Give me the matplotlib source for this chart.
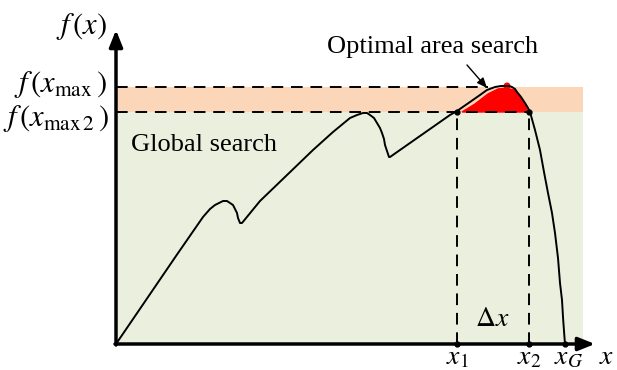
import matplotlib
matplotlib.use("Agg")
import matplotlib.pyplot as plt
from matplotlib.patches import Rectangle, Polygon, Circle

plt.rcParams['mathtext.fontset'] = 'stix'
plt.rcParams['font.family'] = ['Liberation Serif', 'DejaVu Serif']

# ---- data (units: relative to the axis origin) ----
curve_x = [0, 30, 60, 87, 94, 99, 103, 107, 111, 114, 117, 119, 121, 122, 124, 126,
           144, 170, 197, 217, 234, 241, 247, 251, 254, 258, 261, 264, 266, 268, 269, 271, 273, 274,
           304, 334, 341, 354, 364, 371, 379, 385, 389, 393, 396, 399, 401, 405, 409, 412, 414,
           419, 424, 428, 432, 436, 439, 442, 444, 446, 447, 448, 449]
curve_y = [0, 44, 88, 127, 135, 139, 141, 143, 143, 141, 139, 135, 131, 126, 121, 121,
           143, 168, 194, 212, 226, 229, 231, 231, 229, 226, 221, 216, 211, 205, 199, 193, 187, 187,
           208, 229, 233, 242, 249, 254, 257, 258, 258, 258, 257, 255, 252, 247, 241, 236, 232,
           214, 194, 172, 151, 131, 111, 86, 61, 44, 27, 13, 0]
red_x = [346, 359, 372, 382, 390, 398, 404, 409, 412]
red_y = [232, 240, 250, 255, 256, 254, 248, 239, 232]
red_peak = (391, 258)
f_max = 257
f_max2 = 232
x1, x2, xG = 341, 413, 449
band_right = 467

fig = plt.figure(figsize=(6.17, 3.70), dpi=100)
ax = fig.add_axes([0, 0, 1, 1])
ax.set_xlim(-116, 501)
ax.set_ylim(-26, 344)
ax.axis('off')

# bands
ax.add_patch(Rectangle((0, 0), band_right, f_max2, facecolor='#EBF0DE', edgecolor='none', zorder=0))
ax.add_patch(Rectangle((0, f_max2), band_right, f_max - f_max2, facecolor='#FBD6B8', edgecolor='none', zorder=0))

# red optimal region
ax.add_patch(Polygon(list(zip(red_x, red_y)), closed=True, facecolor='red', edgecolor='red', lw=1, zorder=2))
ax.add_patch(Circle(red_peak, 3.5, facecolor='red', edgecolor='none', zorder=2))

# dashed lines
dash = dict(color='black', lw=1.4, linestyle=(0, (6, 4)), zorder=3)
ax.plot([0, 372], [f_max, f_max], **dash)
ax.plot([0, x2], [f_max2, f_max2], **dash)
ax.plot([x1, x1], [0, f_max2], **dash)
ax.plot([x2, x2], [0, f_max2], **dash)

# curve
ax.plot(curve_x, curve_y, color='black', lw=1.4, zorder=4, solid_joinstyle='round')

# dots
ax.plot([x1, x2, x1, x2, xG], [f_max2, f_max2, 0, 0, 0], 'o', color='black', ms=3.5, zorder=5)

# axes arrows
ax.annotate('', xy=(0, 314), xytext=(0, -1),
            arrowprops=dict(arrowstyle='-|>,head_length=1.0,head_width=0.4', color='black', lw=2.5, shrinkA=0, shrinkB=0), zorder=6)
ax.annotate('', xy=(479, 0), xytext=(-1, 0),
            arrowprops=dict(arrowstyle='-|>,head_length=1.0,head_width=0.4', color='black', lw=2.5, shrinkA=0, shrinkB=0), zorder=6)

# annotation arrow
ax.annotate('', xy=(371, 256), xytext=(351, 279),
            arrowprops=dict(arrowstyle='-|>,head_length=0.6,head_width=0.25', color='black', lw=1.0, shrinkA=0, shrinkB=0), zorder=6)

fs = 19
ax.text(317, 297, 'Optimal area search', fontsize=fs, ha='center', va='center')
ax.text(15, 199, 'Global search', fontsize=fs, ha='left', va='center')

ax.text(-9, 317, r'$f\,(x)$', fontsize=22, ha='right', va='center')
ax.text(-9, 259, r'$f\,(x_{\mathrm{max}}\,)$', fontsize=22, ha='right', va='center')
ax.text(-7, 225, r'$f\,(x_{\mathrm{max\,2}}\,)$', fontsize=22, ha='right', va='center')

ax.text(x1, -14, r'$x_1$', fontsize=20, ha='center', va='center')
ax.text(x2, -14, r'$x_2$', fontsize=20, ha='center', va='center')
ax.text(xG + 4, -14, r'$x_G$', fontsize=20, ha='center', va='center')
ax.text(491, -13, r'$x$', fontsize=20, ha='center', va='center')
ax.text(376, 24, r'$\Delta x$', fontsize=20, ha='center', va='center')

fig.savefig('out.png', dpi=100)
